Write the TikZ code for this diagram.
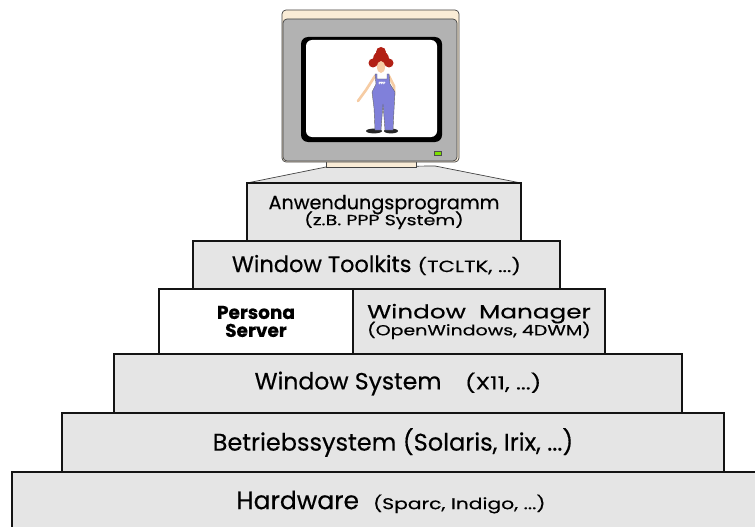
\documentclass[tikz,border=0pt]{standalone}
\usepackage{fontspec}
\setmainfont[FakeBold=0.4]{Poppins}
\newfontfamily\widefont[FakeStretch=1.3, FakeBold=0.4]{Poppins}
\usetikzlibrary{positioning}
\definecolor{layercol}{RGB}{229, 229, 229}
\definecolor{bezelcol}{RGB}{178, 178, 178}
\definecolor{casecol}{RGB}{250, 236, 214}
\definecolor{ledcol}{RGB}{125, 225, 0}
\definecolor{haircol}{RGB}{178, 32, 20}
\definecolor{skincol}{RGB}{246, 204, 164}
\definecolor{overallcol}{RGB}{128, 128, 218}
\definecolor{linecol}{RGB}{20, 20, 20}
% two-line labels keep a fixed 16pt baseline distance
\newcommand\setfs[1]{\fontsize{#1}{16}\selectfont}
\lineskiplimit=-50pt
\tikzset{
  layer/.style   = {draw=linecol, line width=2.4pt, fill=layercol, align=center,
                    font=\setfs{16}, inner sep=0pt, outer sep=0pt,
                    anchor=north west},
  persona/.style = {layer, fill=white},
  casing/.style  = {draw=linecol!80, line width=0.7pt},
}

\begin{document}
\begin{tikzpicture}[x=1pt, y=-1pt]
  \useasboundingbox (0,0) rectangle (755,527);
  \fill[white] (0,0) rectangle (755,527);

  %% ---------------- monitor ----------------
  \filldraw[casing, fill=layercol] (247,183) -- (326,167) -- (435,166)
       -- (521,183) -- cycle;
  \filldraw[casing, fill=casecol] (326,161) rectangle (416,167);
  \filldraw[casing, fill=casecol, rounded corners=4pt] (282,10) rectangle (459,162);
  \filldraw[casing, fill=bezelcol, rounded corners=4pt] (283,19) rectangle (457,161);
  \fill[black, rounded corners=7pt] (301,37) rectangle (442,142);
  \fill[white, rounded corners=6pt] (306,40) rectangle (437,137);
  \filldraw[fill=ledcol, draw=black!70, line width=0.5pt] (434,151) rectangle (441,155);

  %% ---------------- the figure on the screen ----------------
  \fill[black!85] (374,131) ellipse (8 and 2.4);
  \fill[black!85] (391,131) ellipse (7 and 2.4);
  \draw[skincol, line width=2.6pt, line cap=round] (375,76) -- (366,90) -- (358,101);
  \draw[skincol, line width=2.6pt, line cap=round] (389,76) -- (394,86) -- (394,95);
  \filldraw[fill=overallcol, draw=black!60, line width=0.4pt]
       (375,74) -- (377,74) -- (377,79) -- (387,79) -- (387,74) -- (389,74)
       -- (390,84) -- (395,92) -- (394,110) -- (393,130) -- (385,130)
       -- (383,104) -- (381,130) -- (375,130) -- (374,108) -- (372,92)
       -- (376,84) -- cycle;
  \node[text=white, font=\fontsize{3.5}{4}\selectfont\bfseries, inner sep=0pt]
       (bib) at (382,83) {PPP};
  \fill[haircol] (381,59) circle (8);
  \fill[haircol] (373,63) circle (4.5);
  \fill[haircol] (389,63) circle (4.5);
  \fill[haircol] (381,52) circle (5);
  \fill[skincol] (381,67) ellipse (4 and 6);

  %% ---------------- the layers ----------------
  \node[layer, minimum width=758, minimum height=60] (hw) at (12,472)
       {\setfs{25}Hardware\hspace{14pt}{\widefont\setfs{15.6}(Sparc, Indigo, ...)}};
  \node[layer, minimum width=662, minimum height=59] (os) at (62,413)
       {\setfs{24}Betriebssystem (Solaris, Irix, ...)};
  \node[layer, minimum width=568, minimum height=59] (winsys) at (114,354)
       {\setfs{23.5}Window System\quad{\widefont\setfs{18}(X11, ...)}};
  \node[persona, minimum width=194, minimum height=65] (persona) at (159,289)
       {\setfs{18.5}\bfseries Persona\\[2pt]\setfs{18.5}\bfseries Server};
  \node[layer, minimum width=252, minimum height=65] (wm) at (353,289)
       {\widefont\setfs{19}Window\ \ Manager\\[1pt]\widefont\setfs{14.6}(OpenWindows, 4DWM)};
  \node[layer, minimum width=367, minimum height=48] (tk) at (193,241)
       {\setfs{22.5}Window Toolkits {\widefont\setfs{16.3}(TCLTK, ...)}};
  \node[layer, minimum width=274, minimum height=58] (app) at (247,183)
       {\setfs{19.2}Anwendungsprogramm\\\widefont\setfs{14.7}(z.B. PPP System)};
\end{tikzpicture}
\end{document}
